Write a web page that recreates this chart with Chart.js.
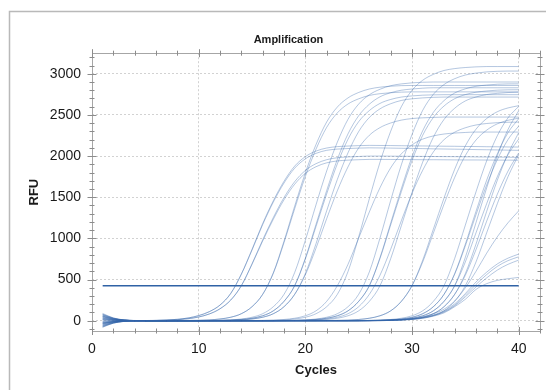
<!DOCTYPE html>
<html>
<head>
<meta charset="utf-8">
<script src="https://cdn.jsdelivr.net/npm/chart.js@4/dist/chart.umd.min.js"></script>
<style>
  html, body { margin: 0; padding: 0; background: #fff; overflow: hidden; }
  #wrap { position: relative; width: 546px; height: 390px; }
</style>
</head>
<body>
<div id="wrap"><canvas id="amp"></canvas></div>
<script>
// cycles on the x axis
const cycles = [1,2,3,4,5,6,7,8,9,10,11,12,13,14,15,16,17,18,19,20,
                21,22,23,24,25,26,27,28,29,30,31,32,33,34,35,36,37,38,39,40];

// RFU per well (one row per curve)
const rfu = [
  [75,30,9,2, 2,4,8,17,33,62, 110,190,330,567,866, 1180,1458,1694,1878,1993, 2061,2098,2115,2122,2127, 2130,2129,2128,2126,2124, 2123,2122,2120,2119,2117, 2116,2114,2113,2111,2110],
  [-50,-20,-6,-1, 2,4,8,17,33,62, 110,190,330,564,858, 1167,1441,1673,1853,1966, 2033,2070,2085,2092,2097, 2100,2099,2097,2095,2093, 2091,2088,2086,2084,2082, 2079,2077,2075,2072,2070],
  [40,15,4,1, 1,3,6,12,24,45, 82,145,250,425,691, 982,1254,1496,1689,1825, 1908,1956,1980,1990,1995, 2000,2000,1999,1998,1997, 1996,1995,1994,1993,1992, 1990,1989,1988,1986,1985],
  [-20,-8,-2,0, 1,3,6,12,24,45, 82,145,250,425,685, 968,1233,1469,1658,1790, 1871,1918,1941,1951,1956, 1960,1960,1959,1958,1957, 1956,1956,1955,1954,1953, 1953,1952,1951,1951,1950],
  [88,34,10,3, 0,0,0,1,3,5, 10,21,42,85,170, 320,577,949,1360,1752, 2084,2349,2525,2633,2696, 2737,2758,2770,2777,2780, 2780,2780,2780,2780,2780, 2780,2780,2780,2780,2780],
  [-65,-25,-7,-2, 0,0,0,1,3,5, 10,21,42,85,170, 320,582,966,1391,1796, 2140,2414,2596,2707,2773, 2815,2837,2849,2856,2858, 2858,2858,2858,2858,2858, 2858,2858,2858,2858,2858],
  [55,22,6,1, 0,0,0,0,0,1, 3,5,10,21,42, 85,170,320,585,976, 1408,1819,2169,2447,2632, 2745,2812,2855,2877,2890, 2897,2900,2900,2900,2900, 2900,2900,2900,2900,2900],
  [-35,-14,-4,-1, 0,0,0,0,0,0, 2,4,7,15,30, 60,120,235,425,748, 1144,1540,1906,2205,2418, 2553,2640,2688,2717,2731, 2740,2744,2746,2746,2746, 2746,2746,2746,2746,2746],
  [20,8,2,0, 0,0,0,0,0,0, 2,4,7,15,30, 60,120,235,425,760, 1170,1580,1960,2270,2490, 2630,2720,2770,2800,2815, 2825,2830,2830,2830,2830, 2830,2830,2830,2830,2830],
  [-80,-30,-9,-2, 0,0,0,0,0,0, 1,3,5,10,21, 42,85,170,320,557, 881,1239,1579,1869,2099, 2253,2346,2402,2437,2456, 2465,2470,2474,2474,2474, 2474,2474,2474,2474,2474],
  [65,26,8,2, 0,0,0,0,0,0, 1,3,5,10,21, 42,85,170,320,573, 935,1335,1716,2040,2298, 2469,2574,2636,2676,2696, 2707,2714,2717,2717,2717, 2717,2717,2717,2717,2717],
  [-10,-4,-1,0, 0,0,0,0,0,0, 0,0,0,0,2, 4,7,15,30,60, 120,235,425,685,1003, 1321,1616,1857,2027,2136, 2206,2245,2268,2280,2287, 2292,2292,2292,2292,2292],
  [30,12,3,1, 0,0,0,0,0,0, 0,0,0,0,1, 3,5,10,21,42, 85,170,320,597,1017, 1482,1925,2301,2600,2799, 2921,2993,3040,3063,3076, 3084,3088,3088,3088,3088],
  [-55,-22,-6,-1, 0,0,0,0,0,0, 0,0,0,0,0, 0,1,3,5,10, 21,42,85,170,320, 593,1005,1460,1894,2262, 2555,2750,2869,2940,2985, 3008,3023,3030,3033,3033],
  [80,32,9,2, 0,0,0,0,0,0, 0,0,0,0,0, 0,0,2,4,7, 15,30,60,120,235, 425,757,1163,1568,1945, 2252,2469,2608,2697,2747, 2776,2791,2801,2805,2806],
  [-28,-11,-3,-1, 0,0,0,0,0,0, 0,0,0,0,0, 0,0,2,4,7, 15,30,60,120,235, 425,767,1185,1603,1991, 2307,2531,2674,2766,2817, 2848,2863,2873,2877,2878],
  [10,4,1,0, 0,0,0,0,0,0, 0,0,0,0,0, 0,0,1,3,5, 10,21,42,85,170, 320,553,867,1215,1546, 1827,2050,2199,2290,2344, 2378,2396,2406,2411,2413],
  [-70,-28,-8,-2, 0,0,0,0,0,0, 0,0,0,0,0, 0,0,0,2,4, 7,15,30,60,120, 235,425,753,1154,1555, 1926,2229,2445,2581,2670, 2718,2748,2762,2772,2776],
  [48,19,5,1, 0,0,0,0,0,0, 0,0,0,0,0, 0,0,0,0,0, 0,2,4,7,15, 30,60,120,235,425, 712,1063,1415,1740,2006, 2195,2315,2392,2435,2460],
  [-42,-16,-5,-1, 0,0,0,0,0,0, 0,0,0,0,0, 0,0,0,0,0, 0,2,4,7,15, 30,60,120,235,425, 734,1111,1489,1839,2124, 2327,2456,2539,2585,2612],
  [70,28,8,2, 0,0,0,0,0,0, 0,0,0,0,0, 0,0,0,0,0, 0,0,0,0,2, 4,7,15,30,60, 120,235,425,756,1161, 1566,1942,2248,2465,2603],
  [-15,-6,-2,0, 0,0,0,0,0,0, 0,0,0,0,0, 0,0,0,0,0, 0,0,0,0,1, 3,5,10,21,42, 85,170,320,572,931, 1328,1707,2028,2284,2454],
  [25,10,3,1, 0,0,0,0,0,0, 0,0,0,0,0, 0,0,0,0,0, 0,0,0,0,1, 3,5,10,21,42, 85,170,320,565,909, 1288,1650,1957,2201,2364],
  [-60,-24,-7,-2, 0,0,0,0,0,0, 0,0,0,0,0, 0,0,0,0,0, 0,0,0,0,0, 2,4,7,15,30, 60,120,235,425,770, 1192,1613,2005,2323,2550],
  [58,23,7,2, 0,0,0,0,0,0, 0,0,0,0,0, 0,0,0,0,0, 0,0,0,0,0, 2,4,7,15,30, 60,120,235,425,714, 1068,1422,1750,2017,2207],
  [-30,-12,-3,-1, 0,0,0,0,0,0, 0,0,0,0,0, 0,0,0,0,0, 0,0,0,0,0, 1,3,5,10,21, 42,85,170,320,572, 931,1328,1707,2028,2284],
  [5,2,1,0, 0,0,0,0,0,0, 0,0,0,0,0, 0,0,0,0,0, 0,0,0,0,0, 1,3,5,10,21, 42,85,170,320,552, 864,1209,1537,1817,2038],
  [-75,-29,-8,-2, 0,0,0,0,0,0, 0,0,0,0,0, 0,0,0,0,0, 0,0,0,0,0, 0,2,4,7,15, 30,60,120,235,425, 714,1068,1422,1750,2017],
  [35,14,4,1, 0,0,0,0,0,0, 0,0,0,0,0, 0,0,0,0,0, 0,0,0,0,0, 2,4,8,15,28, 50,85,140,240,400, 600,820,1020,1190,1334],
  [-25,-10,-3,-1, 0,0,0,0,0,0, 0,0,0,0,0, 0,0,0,0,0, 0,0,0,0,0, 0,3,6,12,22, 40,70,120,205,330, 470,590,690,760,809],
  [50,20,6,1, 0,0,0,0,0,0, 0,0,0,0,0, 0,0,0,0,0, 0,0,0,0,0, 0,3,6,11,20, 36,64,110,190,310, 440,560,660,730,776],
  [-40,-16,-4,-1, 0,0,0,0,0,0, 0,0,0,0,0, 0,0,0,0,0, 0,0,0,0,0, 0,0,5,10,20, 36,62,105,180,290, 410,520,615,685,736],
  [15,6,2,0, 0,0,0,0,0,0, 0,0,0,0,0, 0,0,0,0,0, 0,0,0,0,0, 0,0,4,8,16, 30,55,95,170,260, 380,450,490,510,526]
];

const threshold = 425;
const xTicks = [0, 10, 20, 30, 40];
const yTicks = [0, 500, 1000, 1500, 2000, 2500, 3000];

const FONT = "'Liberation Sans', Arial, sans-serif";

// outer frame, plot box and the small tick marks on all four sides
const framePlugin = {
  id: 'frame',
  beforeDraw(chart) {
    const { ctx, width, height } = chart;
    ctx.save();
    ctx.fillStyle = '#fff';
    ctx.fillRect(0, 0, width, height);
    ctx.strokeStyle = '#b9b9b9';
    ctx.lineWidth = 1.5;
    ctx.beginPath();
    ctx.moveTo(9.5, height);
    ctx.lineTo(9.5, 11.5);
    ctx.lineTo(width, 11.5);
    ctx.stroke();
    ctx.restore();
  },
  beforeDatasetsDraw(chart) {
    const { ctx, chartArea: a, scales: { x, y } } = chart;
    ctx.save();
    ctx.strokeStyle = '#a6a6a6';
    ctx.lineWidth = 1;
    ctx.strokeRect(Math.round(a.left) + 0.5, Math.round(a.top) + 0.5,
      Math.round(a.right - a.left), Math.round(a.bottom - a.top));
    ctx.strokeStyle = '#8c8c8c';
    ctx.beginPath();
    for (let c = 0; c <= 42; c += 2) {
      const px = Math.round(x.getPixelForValue(c)) + 0.5;
      const len = c % 10 === 0 ? 4 : 2.5;
      ctx.moveTo(px, a.bottom - len); ctx.lineTo(px, a.bottom + len);
      ctx.moveTo(px, a.top - len); ctx.lineTo(px, a.top + len);
    }
    for (let v = -100; v <= 3200; v += 100) {
      const py = Math.round(y.getPixelForValue(v)) + 0.5;
      const len = v % 500 === 0 ? 4.5 : 2.5;
      ctx.moveTo(a.left - len, py); ctx.lineTo(a.left + len, py);
      ctx.moveTo(a.right - len, py); ctx.lineTo(a.right + len, py);
    }
    ctx.stroke();
    ctx.restore();
  }
};

const datasets = [{
  label: 'Threshold',
  data: [{ x: cycles[0], y: threshold }, { x: cycles[cycles.length - 1], y: threshold }],
  borderColor: 'rgb(48, 98, 165)',
  borderWidth: 1.4,
  pointRadius: 0,
  order: 0
}];

rfu.forEach(row => {
  datasets.push({
    data: row.map((v, i) => ({ x: cycles[i], y: v })),
    borderColor: 'rgba(50, 100, 168, 0.36)',
    borderWidth: 1,
    pointRadius: 0,
    cubicInterpolationMode: 'monotone',
    order: 1
  });
});

new Chart(document.getElementById('amp'), {
  type: 'line',
  data: { datasets },
  plugins: [framePlugin],
  options: {
    responsive: true,
    maintainAspectRatio: false,
    animation: false,
    layout: { padding: { left: 37, right: 6, top: 0, bottom: 0 } },
    plugins: {
      legend: { display: false },
      tooltip: { enabled: false },
      title: {
        display: true,
        text: 'Amplification',
        color: '#1a1a1a',
        font: { family: FONT, size: 11, weight: 'bold' },
        padding: { top: 33, bottom: 7 }
      }
    },
    scales: {
      x: {
        type: 'linear',
        min: 0,
        max: 42,
        afterFit: s => { s.height = 59; },
        afterBuildTicks: s => { s.ticks = xTicks.map(v => ({ value: v })); },
        ticks: {
          color: '#1a1a1a',
          font: { family: FONT, size: 14 },
          padding: 10,
          maxRotation: 0,
          callback: v => String(v)
        },
        grid: { color: '#d2d2d2', lineWidth: 1, drawTicks: false },
        border: { display: false, dash: [2, 2] },
        title: {
          display: true,
          text: 'Cycles',
          color: '#1a1a1a',
          font: { family: FONT, size: 13, weight: 'bold' },
          padding: { top: 0, bottom: 12 }
        }
      },
      y: {
        min: -125,
        max: 3250,
        afterFit: s => { s.width = 55; },
        afterBuildTicks: s => { s.ticks = yTicks.map(v => ({ value: v })); },
        ticks: {
          color: '#1a1a1a',
          font: { family: FONT, size: 14 },
          padding: 11,
          callback: v => String(v)
        },
        grid: { color: '#d2d2d2', lineWidth: 1, drawTicks: false },
        border: { display: false, dash: [2, 2] },
        title: {
          display: true,
          text: 'RFU',
          color: '#1a1a1a',
          font: { family: FONT, size: 13, weight: 'bold' },
          padding: { top: -10.5, bottom: 0 }
        }
      }
    }
  }
});
</script>
</body>
</html>
